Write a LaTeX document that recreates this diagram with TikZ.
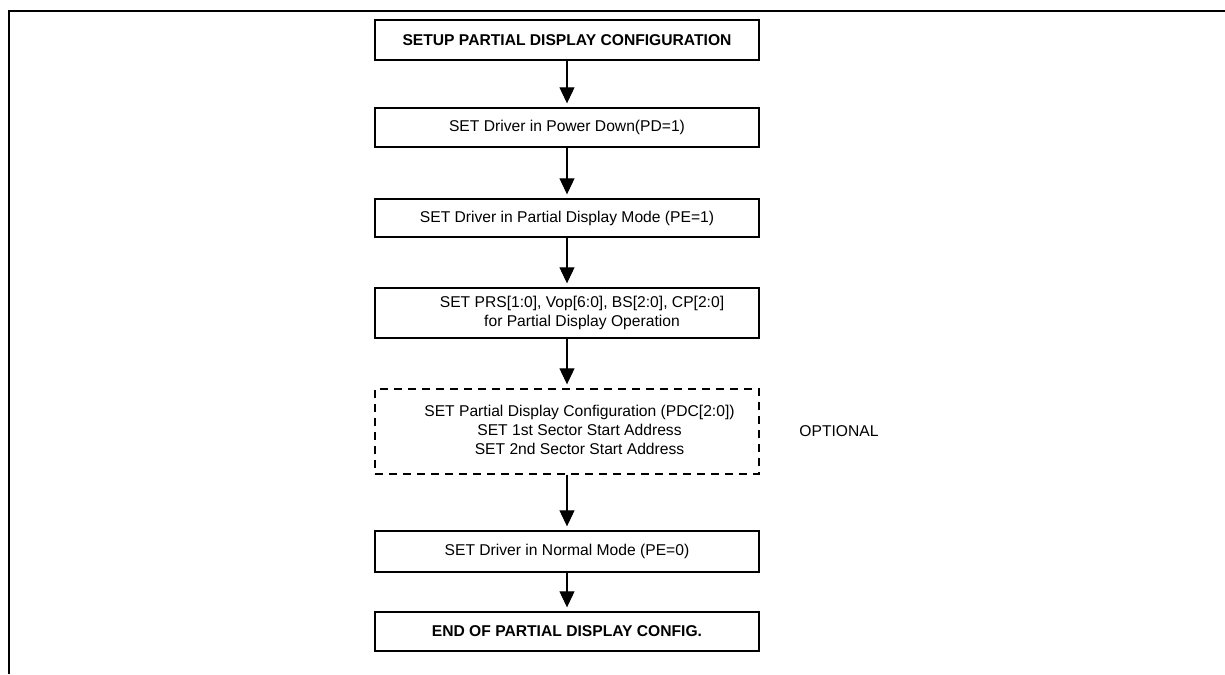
\documentclass[tikz,border=0pt]{standalone}
\usepackage{fontspec}
\setmainfont{Liberation Sans}
\usetikzlibrary{positioning, arrows.meta}

\begin{document}
\begin{tikzpicture}[x=0.02cm, y=-0.02cm, box/.style = {draw, thick, minimum width=7.68cm, align=center, inner sep=2pt, font=\fontsize{8.9}{10.6}\selectfont}, optbox/.style = {box, dash pattern=on 0.16cm off 0.12cm}, flow/.style = {-{Triangle[width=0.3cm, length=0.32cm]}, semithick, shorten >=0.08cm}]
    \useasboundingbox (0,0) rectangle (1225,674);
    % frame
    \draw[line width=0.04cm] (9,674) -- (9,11) -- (1225,11);

    % boxes
    \node[box, minimum height=0.8cm, font=\fontsize{8.9}{10.6}\selectfont\bfseries] (setup) at (567,40) {SETUP PARTIAL DISPLAY CONFIGURATION};
    \node[box, minimum height=0.78cm] (pd) at (567,127.5) {SET Driver in Power Down(PD=1)};
    \node[box, minimum height=0.76cm] (pe1) at (567,218) {SET Driver in Partial Display Mode (PE=1)};
    \node[box, minimum height=1cm] (prs) at (567,313) {\hspace*{0.6cm}\begin{tabular}{@{}c@{}}SET PRS[1:0], Vop[6:0], BS[2:0], CP[2:0]\\for Partial Display Operation\end{tabular}};
    \node[optbox, minimum height=1.7cm, font=\fontsize{8.9}{11}\selectfont] (pdc) at (567,431.5) {\hspace*{0.5cm}\begin{tabular}{@{}c@{}}SET Partial Display Configuration (PDC[2:0])\\SET 1st Sector Start Address\\SET 2nd Sector Start Address\end{tabular}};
    \node[font=\fontsize{8.9}{10.6}\selectfont] (opt) at (839,431) {OPTIONAL};
    \node[box, minimum height=0.82cm] (pe0) at (567,551.5) {SET Driver in Normal Mode (PE=0)};
    \node[box, minimum height=0.78cm, font=\fontsize{8.9}{10.6}\selectfont\bfseries] (fin) at (567,631.5) {END OF PARTIAL DISPLAY CONFIG.};

    % arrows
    \draw[flow] (setup) -- (pd);
    \draw[flow] (pd) -- (pe1);
    \draw[flow] (pe1) -- (prs);
    \draw[flow] (prs) -- (pdc);
    \draw[flow] (pdc) -- (pe0);
    \draw[flow] (pe0) -- (fin);
\end{tikzpicture}
\end{document}
